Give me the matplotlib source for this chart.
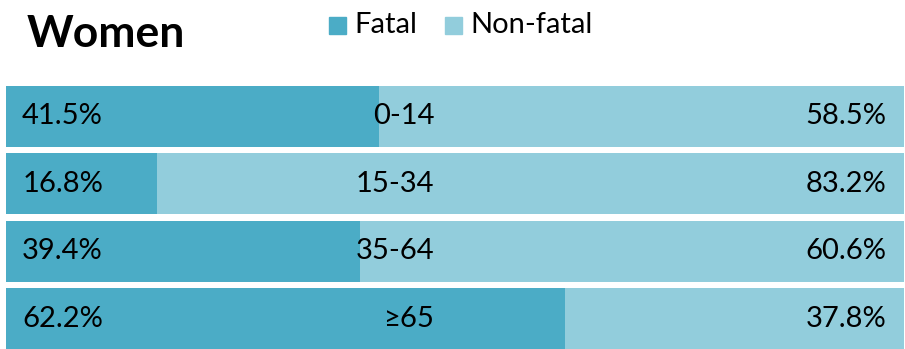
import matplotlib
matplotlib.use("Agg")
import matplotlib.pyplot as plt
from matplotlib.patches import Rectangle

categories = ["0-14", "15-34", "35-64", "≥65"]
fatal = [41.5, 16.8, 39.4, 62.2]
nonfatal = [58.5, 83.2, 60.6, 37.8]
series_names = ["Fatal", "Non-fatal"]
title = "Women"

c_fatal = "#4BACC6"
c_nonfatal = "#92CDDC"
font = ["Lato", "DejaVu Sans"]

W, H = 905, 349
fig = plt.figure(figsize=(W / 100, H / 100), dpi=100)
ax = fig.add_axes([6 / W, 0, 898 / W, (H - 86) / H])
ypos = list(range(len(categories)))
ax.barh(ypos, fatal, height=0.9, color=c_fatal, edgecolor="none")
ax.barh(ypos, nonfatal, left=fatal, height=0.9, color=c_nonfatal, edgecolor="none")
ax.set_xlim(0, 100)
ax.set_ylim(len(categories) - 0.55, -0.45)
ax.axis("off")

fs = 21
for i, cat in enumerate(categories):
    ax.text(1.8, i, f"{fatal[i]:.1f}%", va="center", ha="left", fontsize=fs, family=font)
    ax.text(47.7, i, cat, va="center", ha="right", fontsize=fs, family=font)
    ax.text(98.0, i, f"{nonfatal[i]:.1f}%", va="center", ha="right", fontsize=fs, family=font)

fig.text(27 / W, 1 - 34 / H, title, fontsize=32, fontweight="bold", family=font, va="center", ha="left")

# legend
for x0, col, name in [(329, c_fatal, series_names[0]), (445, c_nonfatal, series_names[1])]:
    fig.patches.append(Rectangle((x0 / W, 1 - 34 / H), 17 / W, 17 / H, transform=fig.transFigure,
                                 color=col, figure=fig))
    fig.text((x0 + 25) / W, 1 - 25 / H, name, fontsize=fs, family=font, va="center", ha="left")

fig.savefig("out.png", dpi=100)
